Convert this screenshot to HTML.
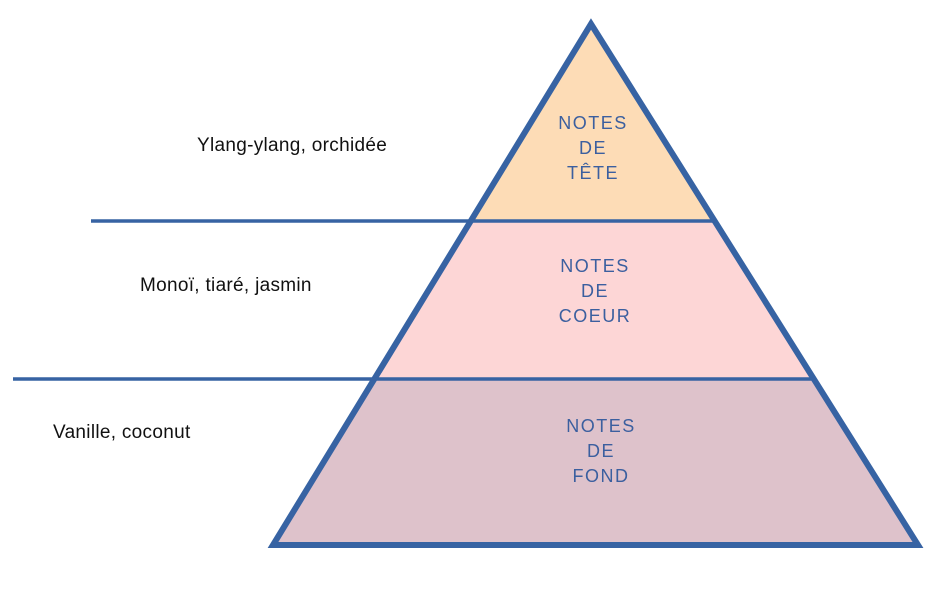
<!DOCTYPE html>
<html><head><meta charset="utf-8"><style>html,body{margin:0;padding:0;background:#fff;}svg{display:block}</style></head>
<body>
<svg width="947" height="597" viewBox="0 0 947 597" xmlns="http://www.w3.org/2000/svg">
<polygon points="591,22 470,221 715,221" fill="#FDDCB6"/>
<polygon points="470,221 715,221 814,379 374,379" fill="#FDD6D6"/>
<polygon points="374,379 814,379 918,545 273,545" fill="#DEC2CB"/>
<polygon points="591,24 273,545 918,545" fill="none" stroke="#3763A3" stroke-width="6" stroke-linejoin="miter"/>
<line x1="91" y1="221" x2="715" y2="221" stroke="#3763A3" stroke-width="3.5"/>
<line x1="13" y1="379" x2="814" y2="379" stroke="#3763A3" stroke-width="3.5"/>
<g font-family="Liberation Sans, sans-serif" font-size="18" fill="#3B5F9F" text-anchor="middle" letter-spacing="1.5">
<text x="593" y="129">NOTES</text><text x="593" y="154">DE</text><text x="593" y="179">TÊTE</text>
<text x="595" y="272">NOTES</text><text x="595" y="297">DE</text><text x="595" y="322">COEUR</text>
<text x="601" y="432">NOTES</text><text x="601" y="457">DE</text><text x="601" y="482">FOND</text>
</g>
<g font-family="Liberation Sans, sans-serif" font-size="19" fill="#111" letter-spacing="0.3">
<text x="197" y="151">Ylang-ylang, orchidée</text>
<text x="140" y="291">Monoï, tiaré, jasmin</text>
<text x="53" y="438">Vanille, coconut</text>
</g>
</svg>
</body></html>
